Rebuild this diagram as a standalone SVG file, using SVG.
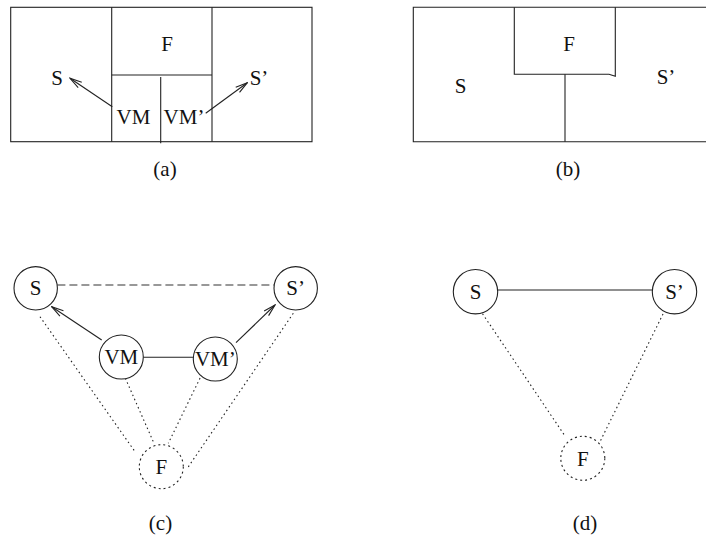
<svg xmlns="http://www.w3.org/2000/svg" width="706" height="544" viewBox="0 0 706 544">
<style>
.ln{stroke:#222;stroke-width:1.1;fill:none}
.dot{stroke:#222;stroke-width:1.1;fill:none;stroke-dasharray:1.5,3}
.dash{stroke:#333;stroke-width:1.1;fill:none;stroke-dasharray:8,4}
.nd{stroke:#222;stroke-width:1.1;fill:#fff}
.ndd{stroke:#222;stroke-width:1.1;fill:#fff;stroke-dasharray:2,3}
text{font-family:"Liberation Serif","Times New Roman",serif;font-size:21px;fill:#111;text-anchor:middle}
</style>
<defs>
<marker id="ah" markerWidth="14" markerHeight="10" refX="13" refY="5" orient="auto" markerUnits="userSpaceOnUse">
<path d="M1,1.8 L13,5 L1,8.2" stroke="#222" stroke-width="1.1" fill="none"/>
</marker>
</defs>
<rect width="706" height="544" fill="#fff"/>

<!-- Panel (a) -->
<g id="panel-a">
<rect class="ln" x="10.7" y="7.3" width="301.3" height="134.4"/>
<line class="ln" x1="111.7" y1="7.3" x2="111.7" y2="141.7"/>
<line class="ln" x1="212" y1="7.3" x2="212" y2="141.7"/>
<line class="ln" x1="111.7" y1="75" x2="212" y2="75"/>
<line class="ln" x1="160.7" y1="77" x2="160.7" y2="143.3"/>
<text x="167" y="51">F</text>
<text x="57" y="84.5">S</text>
<text x="259" y="84.5">S’</text>
<text x="133.5" y="123.5">VM</text>
<text x="184" y="123.5">VM’</text>
<text x="165" y="176">(a)</text>
</g>
<g id="connectors-a">
<line class="ln" x1="112.3" y1="106.7" x2="70" y2="78.3" marker-end="url(#ah)"/>
<line class="ln" x1="205.7" y1="113.3" x2="247.3" y2="82.7" marker-end="url(#ah)"/>
</g>

<!-- Panel (b) -->
<g id="panel-b">
<path class="ln" d="M710,7.3 H413.3 V141.7 H710"/>
<path class="ln" d="M514.3,7.3 V74.3 H609 L615.3,76.3 V7.3"/>
<line class="ln" x1="565" y1="74.3" x2="565" y2="141.7"/>
<text x="569" y="51">F</text>
<text x="460.5" y="92.5">S</text>
<text x="666" y="83.5">S’</text>
<text x="568" y="176">(b)</text>
</g>

<!-- Panel (c) -->
<g id="connectors-c">
<line class="dash" x1="57.4" y1="285" x2="274" y2="285"/>
<line class="ln" x1="101.7" y1="340" x2="51.7" y2="306.7" marker-end="url(#ah)"/>
<line class="ln" x1="143.3" y1="357.3" x2="193.3" y2="357.3"/>
<line class="ln" x1="236" y1="342.7" x2="275" y2="305" marker-end="url(#ah)"/>
<line class="dot" x1="40" y1="316.7" x2="135" y2="451.7"/>
<line class="dot" x1="121.7" y1="370" x2="154" y2="443.3"/>
<line class="dot" x1="204" y1="370" x2="168.3" y2="443.3"/>
<line class="dot" x1="293.3" y1="313.3" x2="187.3" y2="468.3"/>
</g>
<g id="c-S"><circle class="nd" cx="35.7" cy="288.3" r="21.7"/><text x="35.7" y="295.3">S</text></g>
<g id="c-S2"><circle class="nd" cx="295.7" cy="288.3" r="21.7"/><text x="295.7" y="295.3">S’</text></g>
<g id="c-VM"><circle class="nd" cx="121.3" cy="357" r="22"/><text x="121.3" y="364">VM</text></g>
<g id="c-VM2"><circle class="nd" cx="215.3" cy="359" r="22"/><text x="215.3" y="366">VM’</text></g>
<g id="c-F"><circle class="ndd" cx="161.3" cy="466.7" r="22"/><text x="161.3" y="474">F</text></g>
<text x="160.5" y="530">(c)</text>

<!-- Panel (d) -->
<g id="connectors-d">
<line class="ln" x1="497.7" y1="290" x2="652.3" y2="290"/>
<line class="dot" x1="480" y1="310" x2="565" y2="436"/>
<line class="dot" x1="665" y1="310" x2="600" y2="441.7"/>
</g>
<g id="d-S"><circle class="nd" cx="475.5" cy="291.7" r="22.2"/><text x="475.5" y="298.7">S</text></g>
<g id="d-S2"><circle class="nd" cx="674.5" cy="291.7" r="22.2"/><text x="674.5" y="298.7">S’</text></g>
<g id="d-F"><circle class="ndd" cx="582.8" cy="458.3" r="22"/><text x="582.8" y="465.5">F</text></g>
<text x="585" y="530">(d)</text>
</svg>
